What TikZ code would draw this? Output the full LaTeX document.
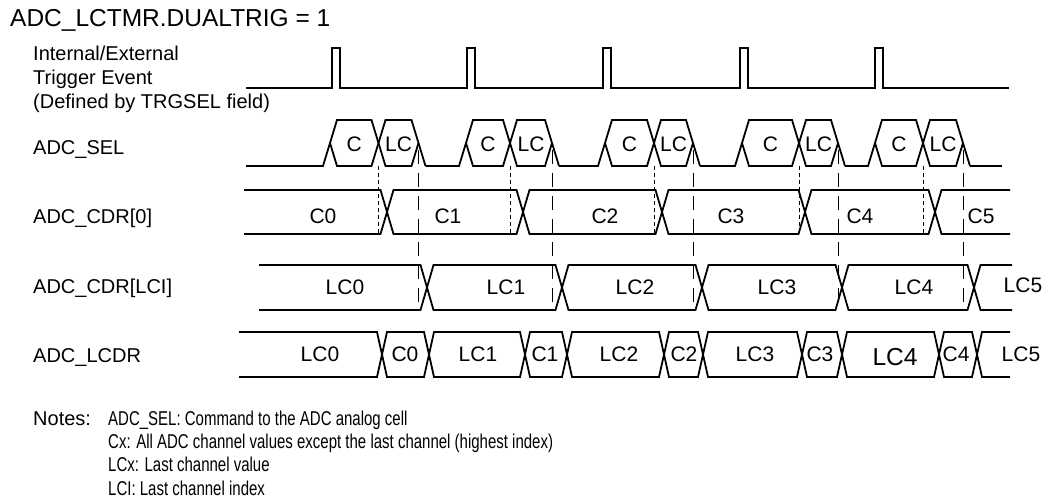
\documentclass[tikz,border=0pt]{standalone}
\usepackage{fontspec}
\setmainfont{Liberation Sans}
\newfontfamily\narrowfont[FakeStretch=0.75]{Liberation Sans}

\begin{document}
\begin{tikzpicture}[x=1pt, y=-1pt,
    sig/.style={line width=1.8pt},
    seldash/.style={line width=0.9pt, dash pattern=on 4pt off 3pt},
    lcdash/.style={line width=0.9pt, dash pattern=on 14pt off 9pt},
    lbl/.style={anchor=base west, inner sep=0pt, font=\fontsize{20}{24}\selectfont},
    val/.style={inner sep=0pt, font=\fontsize{21}{24}\selectfont}]
    \useasboundingbox (0,0) rectangle (1047,500);

    \node[lbl, font=\fontsize{24.5}{28}\selectfont] (title) at (10,27) {ADC\_LCTMR.DUALTRIG = 1};
    \node[lbl, align=left] (trg) at (33,109) {Internal/External\\Trigger Event\\(Defined by TRGSEL field)};
    \node[lbl] (sel) at (33,155) {ADC\_SEL};
    \node[lbl] (cdr0) at (33,223) {ADC\_CDR[0]};
    \node[lbl] (cdrlci) at (33,293) {ADC\_CDR[LCI]};
    \node[lbl] (lcdr) at (33,362) {ADC\_LCDR};

    \draw[sig] (246,88) -- (332,88) -- (332,48) -- (340,48) -- (340,88)
        -- (467,88) -- (467,48) -- (475,48) -- (475,88)
        -- (603,88) -- (603,48) -- (611,48) -- (611,88)
        -- (740,88) -- (740,48) -- (748,48) -- (748,88)
        -- (875,88) -- (875,48) -- (883,48) -- (883,88) -- (1009,88);

    \foreach \p/\c/\x/\l [count=\i] in {246/330/378.5/418.5, 425.5/466/510/552,
        559/605/654/693, 700/742/799/838, 845/875/923/963} {
        \draw[sig] (\p,166) -- (\c-7,166) -- (\c,143);
        \draw[sig] (\c,143) -- (\c+7,120) -- (\x-7,120) -- (\x,143) -- (\x-7,166) -- (\c+7,166) -- cycle;
        \draw[sig] (\x,143) -- (\x+7,120) -- (\l-7,120) -- (\l,143) -- (\l-7,166) -- (\x+7,166) -- cycle;
        \draw[sig] (\l,143) -- (\l+7,166);
        \node[val] (selc\i) at ({(\c+\x)/2},144.5) {C};
        \node[val] (sellc\i) at ({(\x+\l)/2},144.5) {LC};
        \draw[seldash] (\x,166) -- (\x,234);
        \draw[lcdash] (\l,150) -- (\l,309);
    }
    \draw[sig] (970,166) -- (1002,166);

    \draw[sig] (244,190) -- (380.5,190) -- (387,212) -- (380.5,234) -- (244,234);
    \foreach \a/\b in {387/523, 523/662, 662/805, 805/935}
        \draw[sig] (\a,212) -- (\a+6.5,190) -- (\b-6.5,190) -- (\b,212) -- (\b-6.5,234) -- (\a+6.5,234) -- cycle;
    \draw[sig] (1010,190) -- (941.5,190) -- (935,212) -- (941.5,234) -- (1010,234);
    \foreach \t [count=\i from 0] in {323,448,605,731,860,981}
        \node[val] (cdrc\i) at (\t,216.5) {C\i};

    \draw[sig] (259,265) -- (420.5,265) -- (427,287.5) -- (420.5,310) -- (259,310);
    \foreach \a/\b in {427/562, 562/702, 702/842, 842/974}
        \draw[sig] (\a,287.5) -- (\a+6.5,265) -- (\b-6.5,265) -- (\b,287.5) -- (\b-6.5,310) -- (\a+6.5,310) -- cycle;
    \draw[sig] (1012,265) -- (980.5,265) -- (974,287.5) -- (980.5,310) -- (1012,310);
    \foreach \t [count=\i from 0] in {345,506,635,777,914}
        \node[val] (lcilc\i) at (\t,287.5) {LC\i};
    \node[val] (lcilc5) at (1023,285.5) {LC5};

    \draw[sig] (239,332) -- (377,332) -- (382,354.5) -- (377,377) -- (239,377);
    \foreach \a/\b in {382/429, 429/525, 525/567, 567/664, 664/703, 703/802, 802/842, 842/939, 939/977}
        \draw[sig] (\a,354.5) -- (\a+5,332) -- (\b-5,332) -- (\b,354.5) -- (\b-5,377) -- (\a+5,377) -- cycle;
    \draw[sig] (1010,332) -- (982,332) -- (977,354.5) -- (982,377) -- (1010,377);
    \foreach \t/\c [count=\i from 0] in {320/405, 478/545, 619/684, 755/820}
        \node[val] (lcdrlc\i) at (\t,354) {LC\i} node[val] (lcdrc\i) at (\c,354) {C\i};
    \node[val, font=\fontsize{24.5}{28}\selectfont] (lcdrlc4) at (895,357) {LC4};
    \node[val] (lcdrc4) at (956,354) {C4};
    \node[val] (lcdrlc5) at (1021,354) {LC5};

    \node[lbl] (notes) at (33,425) {Notes:};
    \node[lbl, align=left, font=\narrowfont\fontsize{20}{23.3}\selectfont] (notetext) at (108,495)
        {ADC\_SEL: Command to the ADC analog cell\\Cx: All ADC channel values except the last channel (highest index)\\LCx: Last channel value\\LCI: Last channel index};
\end{tikzpicture}
\end{document}
